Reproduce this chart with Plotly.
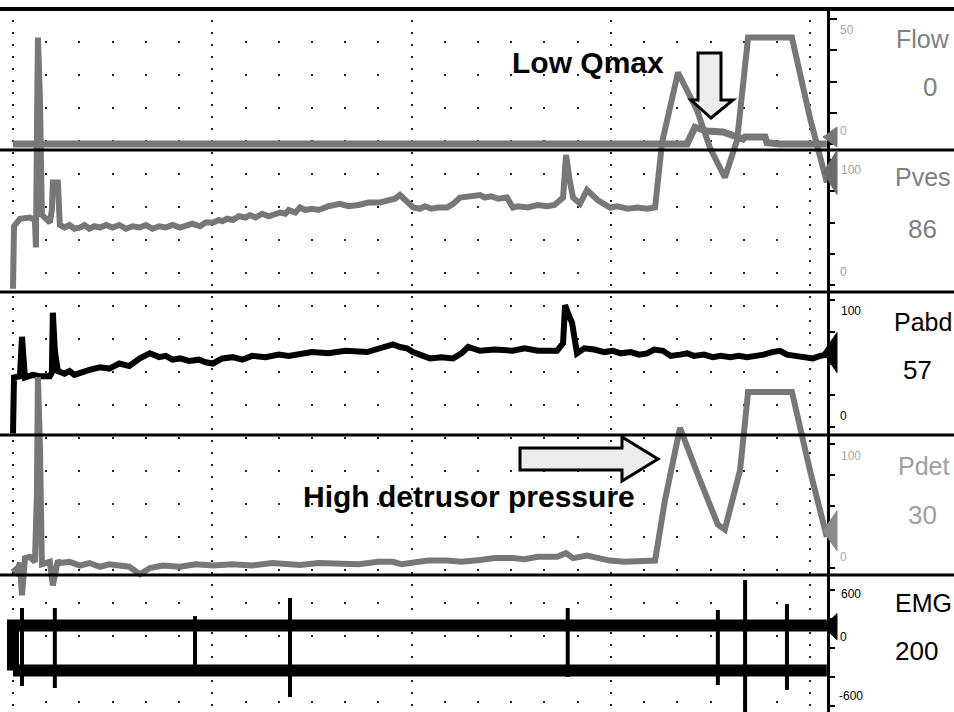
import plotly.graph_objects as go

W, H = 954, 712

# ---------------- data (time in s, values in channel units) ----------------
flow_t = [0, 202.9, 205.3, 208.9, 213.7, 216.8, 219.8, 220.4, 226.4, 227.0, 230.9, 245.0]
flow_v = [0, 0, 6.7, 5.2, 4.8, 3.2, 2.0, 2.8, 2.8, 0.5, 0, 0]

pves_t = [0, 0.3, 2.1, 5.1, 6.6, 6.9, 7.2, 7.5, 8.1, 8.4, 8.7, 11.1, 11.7, 12.0, 13.5,
          14.1, 15.5, 17, 18.5, 20.2, 21.5, 23, 24.5, 26.2, 28, 30, 32, 34, 36, 38.2, 40, 42,
          44, 46, 48, 50.3, 52, 54, 56.3, 58, 60.2, 62, 63, 64.5, 66.2, 68, 70, 71.3, 73, 75,
          77, 80.4, 82, 83, 85, 86.4, 88, 90, 92, 95, 98.4, 101, 104, 107, 110.5, 113, 115,
          116.5, 118.6, 120.5, 122.5, 124, 126, 128, 130.7, 132.5, 134.6, 137, 140.6, 142,
          144, 146, 148.7, 150.5, 152, 155, 158, 160.8, 163, 165.6, 166.2, 166.5, 167.5,
          168.6, 170.7, 172.8, 176.0, 179.7, 182, 185.0, 188, 191, 193.3, 195.4, 200.2,
          205.9, 209.8, 214.3, 218.0, 221.3, 234.5, 239.9, 245.0]
pves_v = [-3, 47, 53, 54, 52, 30, 120, 198, 150, 60, 56, 50, 60, 82, 82,
          48, 46, 48, 45, 46, 48, 45, 47, 46, 48, 46, 48, 45, 47, 46, 48, 45,
          47, 46, 48, 46, 47, 49, 47, 50, 50, 52, 51, 53, 52, 55, 54, 56, 54, 57,
          55, 58, 57, 60, 58, 62, 60, 61, 60, 63, 65, 63, 64, 66, 66, 67, 69,
          72, 66, 62, 61, 63, 61, 62, 62, 65, 70, 71, 72, 70,
          71, 69, 70, 62, 63, 62, 64, 63, 64, 70, 100, 104, 85,
          70, 65, 76, 68, 62, 63, 61, 62, 61, 62, 114, 170,
          140, 110, 86, 116, 198, 198, 134, 82]

pabd_t = [0, 0.3, 2.1, 2.7, 3.6, 6.0, 8.0, 11.1, 11.7, 12.0, 12.6, 13.5, 15.5, 17.0, 18.5,
          20.2, 23.0, 26.2, 29.0, 32.0, 35.0, 38.2, 41.2, 44.0, 46.0, 48.0, 50.3, 53.0, 56.0,
          58.0, 60.2, 63.0, 66.2, 69.0, 72.0, 76.0, 80.0, 83.0, 86.4, 90.0, 95.0, 100.0,
          106.6, 110.0, 114.4, 116.5, 118.6, 120.4, 123.0, 125.5, 129.0, 132.5, 135.0, 137.0,
          140.6, 145.0, 150.5, 154.0, 158.0, 163.8, 165.6, 166.2, 167.0, 168.3, 169.8, 172.0,
          175.0, 178.0, 180.6, 183.0, 186.0, 188.5, 190.9, 193.0, 195.7, 198.0, 200.8, 203.0,
          205.0, 208.0, 210.7, 213.0, 216.0, 218.5, 221.0, 224.0, 226.0, 228.5, 230.9, 233.0,
          236.0, 238.5, 240.8, 243.0, 245.0]
pabd_v = [-5, 39, 40, 71, 39, 41, 40, 40, 43, 90, 60, 44, 42, 44, 41,
          43, 45, 47, 46, 50, 48, 54, 58, 55, 56, 53, 54, 52, 53,
          51, 50, 54, 55, 53, 56, 55, 57, 56, 57, 59, 58, 60,
          59, 62, 65, 63, 62, 59, 56, 54, 55, 54, 58, 63,
          60, 61, 60, 62, 60, 60, 66, 96, 90, 82, 58, 62,
          61, 59, 60, 58, 59, 57, 58, 61, 60, 56, 57, 58,
          56, 57, 55, 56, 55, 56, 55, 56, 57, 59, 60, 57,
          56, 55, 54, 56, 57]

pdet_t = [0, 1.0, 2.1, 2.7, 3.6, 5.1, 6.6, 7.2, 7.5, 8.1, 8.7, 11.1, 12.0, 13.5, 14.1, 17.0,
          20.2, 23.0, 26.2, 29.0, 32.0, 35.0, 38.2, 41.2, 45.0, 50.3, 55.0, 60.2, 66.0, 72.0,
          78.0, 86.4, 92.0, 98.4, 104.0, 110.0, 114.4, 117.0, 120.4, 125.0, 130.7, 135.0,
          140.6, 145.0, 150.5, 154.0, 158.0, 163.8, 166.5, 168.6, 172.8, 176.0, 179.7, 184.0,
          188.8, 193.3, 196.3, 200.8, 206.8, 212.2, 214.3, 218.9, 221.3, 234.5, 239.9, 245.0]
pdet_v = [0, -3, 4, -22, 8, 9, 5, 60, 154, 100, 3, 5, -14, 6, 4, 5,
          2, 4, 1, 3, 2, 1, -5, 0, 2, 1, 3, 2, 3, 2,
          4, 2.4, 4, 4, 3, 5, 5, 3, 4, 6, 6, 5,
          6.5, 8, 8, 7, 9, 9, 12, 8, 10, 8, 6, 5,
          5, 6, 55, 113, 71, 35, 31, 79, 142, 142, 79, 25]

# EMG: envelope band and discrete artefact spikes
emg_t = [0, 30.0, 60.0, 90.0, 120.0, 150.0, 190.0, 200.0, 230.0, 245.0]
emg_up = [232, 232, 232, 232, 232, 232, 226, 232, 232, 232]
emg_lo = [-232, -232, -232, -232, -232, -232, -238, -232, -232, -232]
spike_t = [2.7, 12.6, 54.8, 83.4, 167.0, 212.2, 220.4, 233.0]
spike_up = [414, 414, 330, 517, 414, 393, 703, 455]
spike_lo = [-393, -414, -262, -507, -300, -383, -720, -434]

names = ["Flow", "Pves", "Pabd", "Pdet", "EMG"]
current = [0, 86, 57, 30, 200]
tick_sets = [[0, 12.5, 25, 37.5, 50], [0, 25, 50, 75, 100], [0, 25, 50, 75, 100],
             [0, 25, 50, 75, 100], [-600, -300, 0, 300, 600]]
tick_text = [("50", "0"), ("100", "0"), ("100", "0"), ("100", "0"), ("600", "0", "-600")]

# ---------------- layout helpers ----------------
T, B = 8, 712            # plot area top / bottom in px
XR = 827                 # right axis position in px
PX_PER_S = 199.3 / 60.0
X0 = 13


def yrange(v0, p0, v1, p1):
    s = (p0 - p1) / (v1 - v0)
    return [v0 - (B - p0) / s, v0 + (p0 - T) / s]


def val_to_px(c, v):
    v0, p0, v1, p1 = c
    return p0 - (v - v0) * (p0 - p1) / (v1 - v0)


calib = [(0, 144, 50, 19), (0, 285, 100, 160), (0, 427, 100, 300),
         (0, 568, 100, 444), (0, 648, 600, 590)]


def pp(x, y):
    return x / W, 1 - y / H


GREY = "#777777"
fig = go.Figure()

series = [
    (pdet_t, pdet_v, "y4", GREY, 6),
    (pves_t, pves_v, "y2", GREY, 6),
    (flow_t, flow_v, "y", GREY, 7),
    (pabd_t, pabd_v, "y3", "#000000", 6),
]
for t, v, ax, col, w in series:
    fig.add_trace(go.Scatter(x=t, y=v, yaxis=ax, mode="lines",
                             line=dict(color=col, width=w), hoverinfo="skip", showlegend=False))

# EMG band (starts with a vertical connector at t=0)
fig.add_trace(go.Scatter(x=[emg_t[0]] + emg_t, y=[emg_lo[0]] + emg_up, yaxis="y5", mode="lines",
                         line=dict(color="#000", width=12), hoverinfo="skip", showlegend=False))
fig.add_trace(go.Scatter(x=emg_t, y=emg_lo, yaxis="y5", mode="lines",
                         line=dict(color="#000", width=12), hoverinfo="skip", showlegend=False))
sx, sy = [], []
for t, u, l in zip(spike_t, spike_up, spike_lo):
    sx += [t, t, None]
    sy += [u, l, None]
fig.add_trace(go.Scatter(x=sx, y=sy, yaxis="y5", mode="lines",
                         line=dict(color="#000", width=4), hoverinfo="skip", showlegend=False))

xrange_ = [(0 - X0) / PX_PER_S, (XR - X0) / PX_PER_S]
dom_y = [0, 1 - T / H]

layout = dict(
    width=W, height=H, margin=dict(l=0, r=0, t=0, b=0),
    paper_bgcolor="white", plot_bgcolor="white", showlegend=False,
    xaxis=dict(domain=[0, XR / W], range=xrange_, showticklabels=False, ticks="",
               zeroline=False, showline=False, tick0=0, dtick=60,
               showgrid=True, gridcolor="#222", gridwidth=2, griddash="2px,10px",
               minor=dict(dtick=10, tick0=0, showgrid=True, gridcolor="#222",
                          gridwidth=2, griddash="2px,31px")),
)
for i in range(5):
    key = "yaxis" if i == 0 else f"yaxis{i+1}"
    ax = dict(range=yrange(*calib[i]), side="right", anchor="x",
              showgrid=False, zeroline=False, showticklabels=False,
              ticks="outside", tickvals=tick_sets[i], ticklen=7, tickwidth=2,
              tickcolor="#000", showline=(i == 0), linecolor="#000", linewidth=3)
    if i == 0:
        ax["domain"] = dom_y
    else:
        ax["overlaying"] = "y"
    layout[key] = ax
fig.update_layout(**layout)

shapes = []
# panel separators and top line
for y, w in [(9, 4), (150, 3), (292, 3), (435, 3), (575, 3)]:
    shapes.append(dict(type="line", xref="paper", yref="paper", x0=0, x1=1,
                       y0=1 - y / H, y1=1 - y / H, line=dict(color="#000", width=w)))

# current-value markers at the right axis
tri_cols = ["#777", "#6a6a6a", "#000", "#8a8a8a", "#000"]
tri_half = [10, 22, 20, 20, 13]
tri_off = [-7, -5, -2, 0, -2]
for i in range(5):
    h = tri_half[i]
    ya = 1 - (val_to_px(calib[i], current[i]) + tri_off[i]) / H
    shapes.append(dict(type="path", xref="paper", yref="paper", xsizemode="pixel",
                       ysizemode="pixel", xanchor=XR / W, yanchor=ya,
                       path=f"M -4,0 L 10,{h} L 10,{-h} Z",
                       fillcolor=tri_cols[i], line=dict(color=tri_cols[i], width=1)))


def px_path(pts):
    s = ""
    for k, (x, y) in enumerate(pts):
        X, Y = pp(x, y)
        s += ("M" if k == 0 else " L") + f"{X:.5f},{Y:.5f}"
    return s + " Z"


down_arrow = [(698, 53), (721, 53), (721, 100), (733, 100), (711, 118), (691, 100), (698, 100)]
right_arrow = [(520, 448), (622, 448), (622, 437), (658, 459), (622, 481), (622, 470), (520, 470)]
for arr in (down_arrow, right_arrow):
    shapes.append(dict(type="path", xref="paper", yref="paper", path=px_path(arr),
                       fillcolor="#ececec", line=dict(color="#000", width=3)))
fig.update_layout(shapes=shapes)

ann = []
BOLD = "Liberation Sans, Arial, sans-serif"
for text, (x, y) in [("Low Qmax", (588, 63)), ("High detrusor pressure", (469, 497))]:
    X, Y = pp(x, y)
    ann.append(dict(text=f"<b>{text}</b>", x=X, y=Y, xref="paper", yref="paper",
                    showarrow=False, xanchor="center", yanchor="middle",
                    font=dict(family=BOLD, size=30, color="#000")))

LAB = "Liberation Sans, Arial, sans-serif"
name_cols = ["#808080", "#808080", "#000", "#a0a0a0", "#000"]
name_y = [39, 177, 322, 466, 603]
val_pos = [(930, 87), (922, 229), (917, 370), (922, 515), (916, 651)]
for i in range(5):
    X, Y = pp(923, name_y[i])
    ann.append(dict(text=names[i], x=X, y=Y, xref="paper", yref="paper", showarrow=False,
                    xanchor="center", yanchor="middle",
                    font=dict(family=LAB, size=25, color=name_cols[i])))
    X, Y = pp(*val_pos[i])
    ann.append(dict(text=str(current[i]), x=X, y=Y, xref="paper", yref="paper", showarrow=False,
                    xanchor="center", yanchor="middle",
                    font=dict(family=LAB, size=26, color=name_cols[i])))

tick_cols = ["#a8a8a8", "#a0a0a0", "#000", "#aaaaaa", "#000"]
tick_pos = [[(847, 30), (843, 131)], [(851, 170), (843, 272)], [(851, 311), (843, 416)],
            [(851, 456), (843, 557)], [(851, 594), (843, 637), (851, 696)]]
for i in range(5):
    for lab, pos in zip(tick_text[i], tick_pos[i]):
        X, Y = pp(*pos)
        ann.append(dict(text=lab, x=X, y=Y, xref="paper", yref="paper", showarrow=False,
                        xanchor="center", yanchor="middle",
                        font=dict(family=LAB, size=12, color=tick_cols[i])))
fig.update_layout(annotations=ann)

fig.write_html("out.html")
